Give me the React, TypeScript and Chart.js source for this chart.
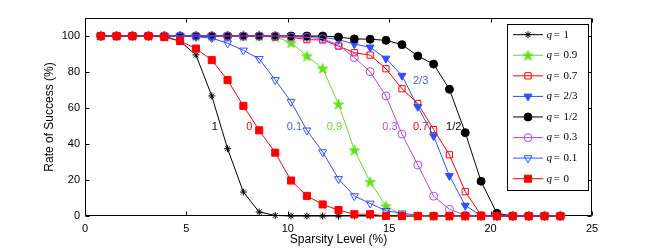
import React, { useEffect, useRef } from 'react';
import { Chart, registerables } from 'chart.js';
import { drawPoint } from 'chart.js/helpers';

Chart.register(...registerables);

// Sparsity level (%) for k = 1..30 (k/128)
const SPARSITY = [0.78, 1.56, 2.34, 3.13, 3.91, 4.69, 5.47, 6.25, 7.03, 7.81, 8.59, 9.38, 10.16, 10.94, 11.72, 12.5, 13.28, 14.06, 14.84, 15.63, 16.41, 17.19, 17.97, 18.75, 19.53, 20.31, 21.09, 21.88, 22.66, 23.44];

const Q_1 = [100, 100, 100, 100, 100, 97, 89.5, 66.7, 37.4, 13.3, 2.2, 0.3, 0, 0, 0, 0, 0, 0, 0, 0, 0, 0, 0, 0, 0, 0, 0, 0, 0, 0];
const Q_09 = [100, 100, 100, 100, 100, 100, 100, 100, 100, 100, 100, 99.5, 96.3, 88.9, 82, 62.2, 36.7, 19, 5.6, 0.5, 0, 0, 0, 0, 0, 0, 0, 0, 0, 0];
const Q_07 = [100, 100, 100, 100, 100, 100, 100, 100, 100, 100, 100, 99.5, 99.3, 98, 97.8, 94.4, 90.7, 89.4, 81.8, 70.7, 62.5, 48, 34, 13.5, 0.5, 0, 0, 0, 0, 0];
const Q_23 = [100, 100, 100, 100, 100, 100, 100, 100, 100, 100, 100, 100, 100, 99.8, 99.3, 98, 95.5, 93.7, 87.5, 78, 60.7, 44.4, 22.3, 5.8, 0.3, 0, 0, 0, 0, 0];
const Q_12 = [100, 100, 100, 100, 100, 100, 100, 100, 100, 100, 100, 100, 100, 100, 100, 99.4, 98.4, 98.2, 97.6, 95.2, 88.9, 84.4, 70.4, 46.3, 19.3, 1.5, 0, 0, 0, 0];
const Q_03 = [100, 100, 100, 100, 100, 100, 100, 100, 100, 100, 100, 100, 99.5, 99.3, 98.5, 95, 88, 80.2, 66.7, 45.5, 28.3, 11, 3.7, 0.5, 0, 0, 0, 0, 0, 0];
const Q_01 = [100, 100, 100, 100, 100, 100, 99.6, 98.8, 96, 92, 87.3, 75.6, 63.5, 47.6, 35.5, 20.6, 11.1, 7, 2.9, 1.5, 0.5, 0, 0, 0, 0, 0, 0, 0, 0, 0];
const Q_0 = [100, 100, 100, 100, 99.4, 97.2, 93, 86.6, 75.5, 61.2, 47.6, 35.2, 19.7, 11.2, 6.4, 3.3, 1, 1, 0, 0, 0, 0, 0, 0, 0, 0, 0, 0, 0, 0];

const Q_LABELS = ['1', '0.9', '0.7', '2/3', '1/2', '0.3', '0.1', '0'];
const X_TICKS = [0, 5, 10, 15, 20, 25];
const Y_TICKS = [0, 20, 40, 60, 80, 100];

// Curve annotations: text and anchor in data coordinates (x %, y %)
const ANNOT_TEXT = ['1', '0', '0.1', '0.9', '0.3', '0.7', '1/2', '2/3'];
const ANNOT_X = [6.4, 8.1, 10.33, 12.3, 15.04, 16.55, 18.18, 16.55];
const ANNOT_Y = [49.6, 49.6, 49.6, 49.6, 49.6, 49.6, 49.6, 75];

const BLACK = '#000000';
const GREEN = '#62e01e';
const RED = '#ff0000';
const BLUE = '#2f50ff';
const PURPLE = '#b446f0';
const ANNOT_COLOR = [BLACK, RED, '#4460ff', GREEN, PURPLE, RED, BLACK, '#4460ff'];

function makePentagram(color: string, R: number) {
  const size = 13;
  const c = document.createElement('canvas');
  c.width = size;
  c.height = size;
  const g = c.getContext('2d')!;
  g.translate(size / 2, size / 2 + 0.5);
  g.beginPath();
  for (let i = 0; i < 10; i++) {
    const r = i % 2 === 0 ? R : R * 0.4;
    const a = -Math.PI / 2 + (i * Math.PI) / 5;
    g.lineTo(r * Math.cos(a), r * Math.sin(a));
  }
  g.closePath();
  g.fillStyle = color;
  g.fill();
  g.strokeStyle = color;
  g.lineWidth = 0.8;
  g.stroke();
  return c;
}

export default function App() {
  const ref = useRef<HTMLCanvasElement | null>(null);

  useEffect(() => {
    const canvas = ref.current!;
    const star = makePentagram(GREEN, 5.6);

    const styles = [
      { data: Q_1, color: BLACK, pointStyle: 'star', radius: 3.5, rotation: 0, fill: BLACK },
      { data: Q_09, color: GREEN, pointStyle: star, radius: 5, rotation: 0, fill: GREEN },
      { data: Q_07, color: RED, pointStyle: 'rect', radius: 4.4, rotation: 0, fill: 'rgba(255,255,255,0)' },
      { data: Q_23, color: BLUE, pointStyle: 'triangle', radius: 4.6, rotation: 180, fill: BLUE },
      { data: Q_12, color: BLACK, pointStyle: 'circle', radius: 4, rotation: 0, fill: BLACK },
      { data: Q_03, color: PURPLE, pointStyle: 'circle', radius: 4, rotation: 0, fill: 'rgba(255,255,255,0)' },
      { data: Q_01, color: BLUE, pointStyle: 'triangle', radius: 4.6, rotation: 180, fill: 'rgba(255,255,255,0)' },
      { data: Q_0, color: RED, pointStyle: 'rect', radius: 5, rotation: 0, fill: RED },
    ];

    const datasets = styles.map((s, i) => ({
      label: 'q = ' + Q_LABELS[i],
      data: SPARSITY.map((x, j) => ({ x, y: s.data[j] })),
      borderColor: s.color,
      backgroundColor: s.fill,
      borderWidth: 1,
      pointStyle: s.pointStyle as any,
      pointRadius: s.radius,
      pointRotation: s.rotation,
      pointBorderColor: s.color,
      pointBackgroundColor: s.fill,
      pointBorderWidth: 1,
      tension: 0,
      clip: false as any,
      order: styles.length - i,
    }));

    const decor = {
      id: 'decor',
      beforeDatasetsDraw(chart: any) {
        const { ctx, chartArea: a, scales } = chart;
        ctx.save();
        ctx.strokeStyle = '#000';
        ctx.lineWidth = 1;
        ctx.beginPath();
        const L = a.left + 0.5, R = a.right - 0.5, T = a.top + 0.5, B = a.bottom - 0.5;
        ctx.rect(L, T, R - L, B - T);
        const tl = 4;
        X_TICKS.forEach((v) => {
          const px = Math.round(scales.x.getPixelForValue(v)) + 0.5;
          ctx.moveTo(px, B);
          ctx.lineTo(px, B - tl);
          ctx.moveTo(px, T);
          ctx.lineTo(px, T + tl);
        });
        Y_TICKS.forEach((v) => {
          const py = Math.round(scales.y.getPixelForValue(v)) + 0.5;
          ctx.moveTo(L, py);
          ctx.lineTo(L + tl, py);
          ctx.moveTo(R, py);
          ctx.lineTo(R - tl, py);
        });
        ctx.stroke();
        // curve annotations
        ctx.font = '11px "Liberation Sans", Arial, sans-serif';
        ctx.textAlign = 'center';
        ctx.textBaseline = 'middle';
        ANNOT_TEXT.forEach((t, i) => {
          ctx.fillStyle = ANNOT_COLOR[i];
          ctx.fillText(t, scales.x.getPixelForValue(ANNOT_X[i]), scales.y.getPixelForValue(ANNOT_Y[i]));
        });
        ctx.restore();
      },
      afterDraw(chart: any) {
        const { ctx } = chart;
        ctx.save();
        const bx = 507.5, by = 24.5, bw = 81, bh = 166;
        ctx.fillStyle = '#fff';
        ctx.fillRect(bx, by, bw, bh);
        ctx.strokeStyle = '#000';
        ctx.lineWidth = 1;
        ctx.strokeRect(bx, by, bw, bh);
        const y0 = 34.7, dy = 20.57;
        styles.forEach((s, i) => {
          const y = y0 + dy * i;
          ctx.strokeStyle = s.color;
          ctx.lineWidth = 1;
          ctx.beginPath();
          ctx.moveTo(513, y);
          ctx.lineTo(543, y);
          ctx.stroke();
          ctx.fillStyle = s.fill;
          ctx.strokeStyle = s.color;
          drawPoint(ctx, { pointStyle: s.pointStyle as any, radius: s.radius, rotation: s.rotation, borderWidth: 1 } as any, 528, y);
          ctx.fillStyle = '#000';
          ctx.textAlign = 'left';
          ctx.textBaseline = 'middle';
          ctx.font = 'italic 11px "Liberation Serif", "Times New Roman", serif';
          ctx.fillText('q', 546.5, y);
          ctx.font = '11px "Liberation Serif", "Times New Roman", serif';
          ctx.fillText('=', 553.5, y);
          ctx.fillText(Q_LABELS[i], 563.5, y);
        });
        ctx.restore();
      },
    };

    const font = { family: '"Liberation Sans", Arial, Helvetica, sans-serif', size: 11 };

    const chart = new Chart(canvas, {
      type: 'line',
      data: { datasets: datasets as any },
      options: {
        animation: false,
        responsive: false,
        devicePixelRatio: 1,
        layout: { padding: { left: 0, top: 18, right: 62, bottom: 0 } },
        plugins: { legend: { display: false }, tooltip: { enabled: false } },
        scales: {
          x: {
            type: 'linear',
            min: 0,
            max: 25,
            afterBuildTicks: (s: any) => {
              s.ticks = X_TICKS.map((v) => ({ value: v }));
            },
            afterFit: (s: any) => {
              s.height = 32;
            },
            grid: { display: false, drawTicks: false },
            border: { display: false },
            ticks: { padding: 6, color: '#000', font, maxRotation: 0, autoSkip: false },
            title: {
              display: true,
              text: 'Sparsity Level (%)',
              color: '#000',
              font: { family: font.family, size: 12 },
              padding: { top: 0, bottom: 1 },
            },
          },
          y: {
            type: 'linear',
            min: 0,
            max: 110,
            afterBuildTicks: (s: any) => {
              s.ticks = Y_TICKS.map((v) => ({ value: v }));
            },
            afterFit: (s: any) => {
              s.width = 85;
            },
            grid: { display: false, drawTicks: false },
            border: { display: false },
            ticks: { padding: 5, color: '#000', font },
            title: {
              display: true,
              text: 'Rate of Success (%)',
              color: '#000',
              font: { family: font.family, size: 12 },
              padding: { top: 42.8, bottom: 0 },
            },
          },
        },
      },
      plugins: [decor],
    });
    return () => chart.destroy();
  }, []);

  return (
    <div style={{ position: 'fixed', left: 0, top: 0, width: 654, height: 248, background: '#fff' }}>
      <canvas ref={ref} width={654} height={248} style={{ display: 'block', width: 654, height: 248 }} />
    </div>
  );
}
